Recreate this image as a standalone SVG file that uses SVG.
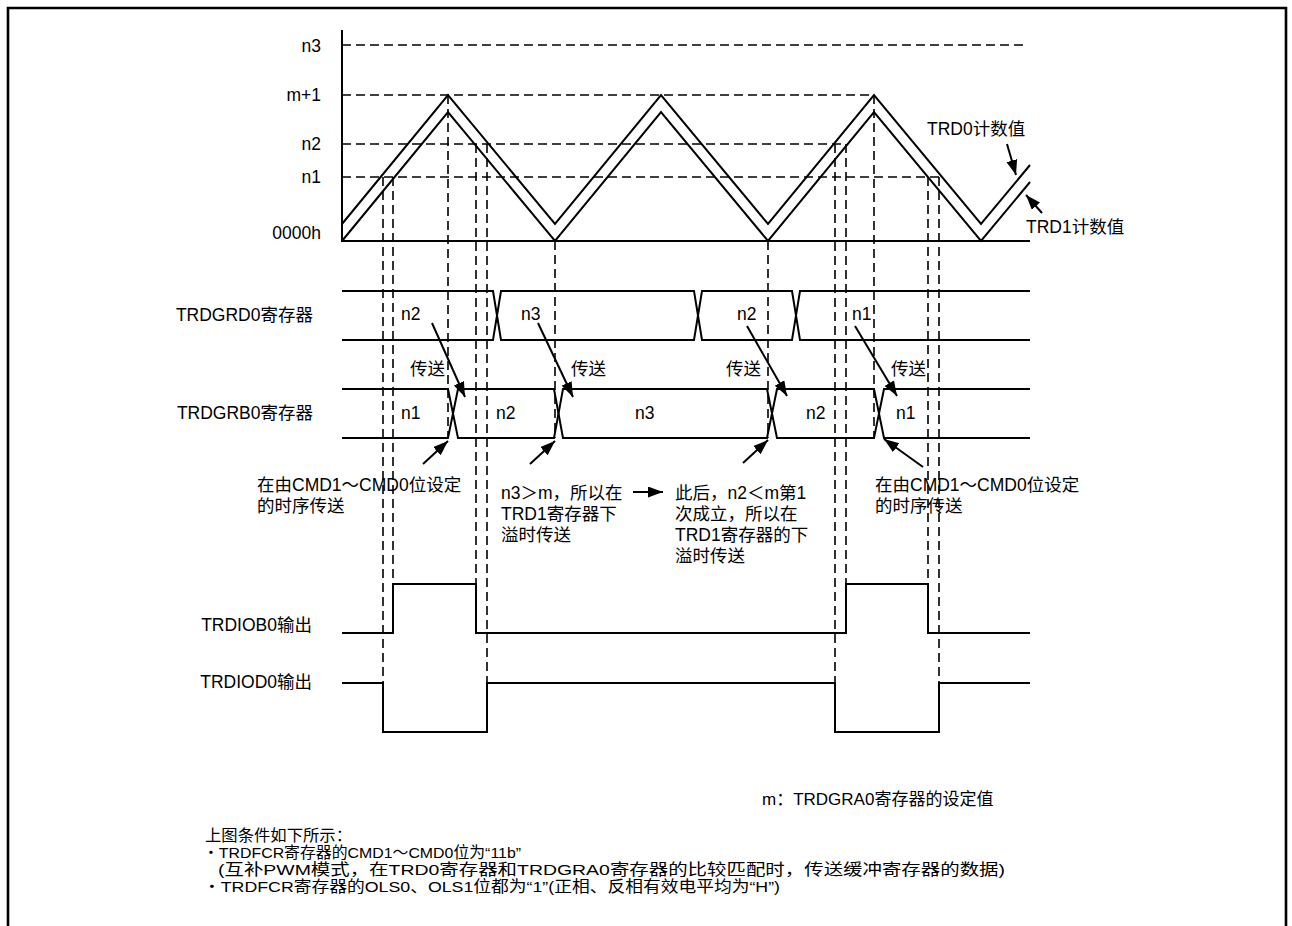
<svg xmlns="http://www.w3.org/2000/svg" width="1292" height="926" viewBox="0 0 1292 926">
<defs>
<style>
.s{stroke:#000;stroke-width:2;fill:none}
.d{stroke:#000;stroke-width:1.6;stroke-dasharray:9 5;fill:none}
.a{stroke:#000;stroke-width:2;fill:none;marker-end:url(#ah)}
.t{font-family:"Liberation Sans","Noto Sans CJK SC",sans-serif;font-size:17.5px;fill:#000}
.e{text-anchor:end}
.b{font-size:17px}
.c{font-size:15.5px}
</style>
<marker id="ah" markerUnits="userSpaceOnUse" markerWidth="17" markerHeight="12" refX="15" refY="5.5" orient="auto"><path d="M0,0 L15,5.5 L0,11 z" fill="#000"/></marker>
</defs>
<rect width="1292" height="926" fill="#fff"/>
<path d="M8,926 V8 H1286 V926" fill="none" stroke="#000" stroke-width="2.6"/>

<g id="counter-chart">
<path class="s" d="M342,30 V241 H1030"/>
<path class="d" d="M342,45 H1023 M342,95 H874 M342,144 H846 M342,177 H939"/>
<path class="s" d="M342,224 L448,95 L555,224 L661,95 L768,224 L874,95 L981,224 L1030,165"/>
<path class="s" d="M342,241 L448,112 L555,241 L661,112 L768,241 L874,112 L981,241 L1030,182"/>
<text class="t e" x="321" y="52">n3</text>
<text class="t e" x="321" y="101">m+1</text>
<text class="t e" x="321" y="150">n2</text>
<text class="t e" x="321" y="183">n1</text>
<text class="t e" x="321" y="239">0000h</text>
<text class="t" x="927" y="135">TRD0计数值</text>
<text class="t" x="1026" y="233">TRD1计数值</text>
</g>

<g id="guides">
<path class="d" d="M383,177 V683 M393,177 V584 M448,95 V438 M476,144 V584 M487,144 V683 M555,241 V438 M768,241 V438 M835,144 V683 M846,144 V584 M874,95 V438 M928,177 V584 M939,177 V683"/>
</g>

<g id="trdgrd0">
<text class="t e" x="313" y="321">TRDGRD0寄存器</text>
<path class="s" d="M342,291 H493 L501,340 H694 L702,291 H792 L800,340 H1030"/>
<path class="s" d="M342,340 H493 L501,291 H694 L702,340 H792 L800,291 H1030"/>
<text class="t" x="401" y="320">n2</text>
<text class="t" x="521" y="320">n3</text>
<text class="t" x="737" y="320">n2</text>
<text class="t" x="852" y="320">n1</text>
</g>

<g id="trdgrb0">
<text class="t e" x="313" y="419">TRDGRB0寄存器</text>
<path class="s" d="M342,389 H448 L458,438 H554 L563,389 H767 L777,438 H874 L884,389 H1030"/>
<path class="s" d="M342,438 H448 L458,389 H554 L563,438 H767 L777,389 H874 L884,438 H1030"/>
<text class="t" x="401" y="419">n1</text>
<text class="t" x="496" y="419">n2</text>
<text class="t" x="635" y="419">n3</text>
<text class="t" x="806" y="419">n2</text>
<text class="t" x="896" y="419">n1</text>
<text class="t" x="410" y="375">传送</text>
<text class="t" x="571" y="375">传送</text>
<text class="t" x="726" y="375">传送</text>
<text class="t" x="891" y="375">传送</text>
</g>

<g id="trdiob0">
<text class="t e" x="312" y="631">TRDIOB0输出</text>
<path class="s" d="M342,633 H393 V584 H476 V633 H846 V584 H928 V633 H1030"/>
</g>

<g id="trdiod0">
<text class="t e" x="312" y="688">TRDIOD0输出</text>
<path class="s" d="M342,683 H383 V732 H487 V683 H835 V732 H939 V683 H1030"/>
</g>

<g id="notes">
<text class="t" x="257" y="491">在由CMD1～CMD0位设定</text>
<text class="t" x="257" y="512">的时序传送</text>
<text class="t" x="501" y="499">n3＞m，所以在</text>
<text class="t" x="501" y="520">TRD1寄存器下</text>
<text class="t" x="501" y="541">溢时传送</text>
<text class="t" x="675" y="499">此后，n2＜m第1</text>
<text class="t" x="675" y="520">次成立，所以在</text>
<text class="t" x="675" y="541">TRD1寄存器的下</text>
<text class="t" x="675" y="562">溢时传送</text>
<text class="t" x="875" y="491">在由CMD1～CMD0位设定</text>
<text class="t" x="875" y="512">的时序传送</text>
<text class="t b" x="762" y="805">m：TRDGRA0寄存器的设定值</text>
<text class="t c" x="205" y="841" textLength="147" lengthAdjust="spacingAndGlyphs">上图条件如下所示：</text>
<text class="t c" x="203" y="858" textLength="318" lengthAdjust="spacingAndGlyphs">・TRDFCR寄存器的CMD1～CMD0位为“11b”</text>
<text class="t c" x="218" y="875" textLength="787" lengthAdjust="spacingAndGlyphs">(互补PWM模式，在TRD0寄存器和TRDGRA0寄存器的比较匹配时，传送缓冲寄存器的数据)</text>
<text class="t c" x="203" y="892" textLength="577" lengthAdjust="spacingAndGlyphs">・TRDFCR寄存器的OLS0、OLS1位都为“1”(正相、反相有效电平均为“H”)</text>
</g>

<g id="connectors">
<line class="a" x1="1007" y1="144" x2="1016" y2="175"/>
<line class="a" x1="1042" y1="213" x2="1026" y2="195"/>
<line class="a" x1="432" y1="323" x2="465" y2="397"/>
<line class="a" x1="538" y1="323" x2="573" y2="397"/>
<line class="a" x1="747" y1="326" x2="787" y2="396"/>
<line class="a" x1="855" y1="326" x2="897" y2="396"/>
<line class="a" x1="423" y1="464" x2="448" y2="441"/>
<line class="a" x1="530" y1="464" x2="555" y2="441"/>
<line class="a" x1="743" y1="463" x2="768" y2="440"/>
<line class="a" x1="923" y1="467" x2="884" y2="439"/>
<line class="a" x1="633" y1="492" x2="663" y2="492"/>
</g>
</svg>
